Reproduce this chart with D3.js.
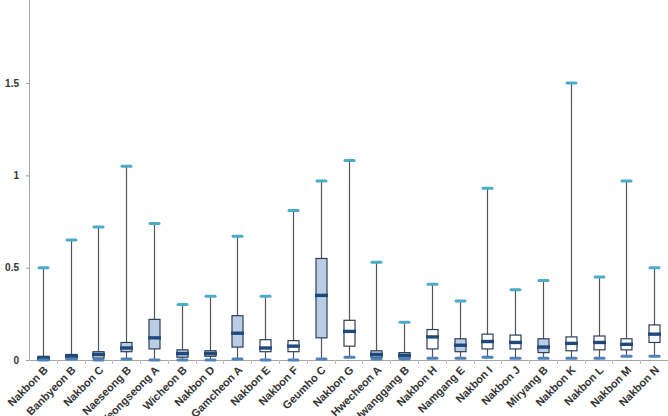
<!DOCTYPE html>
<html>
<head>
<meta charset="utf-8">
<script src="https://cdn.jsdelivr.net/npm/d3@7"></script>
<style>
  html, body { margin: 0; padding: 0; background: #fff; }
  svg { display: block; font-family: Arial, "Liberation Sans", sans-serif; }
</style>
</head>
<body>
<svg id="chart" width="668" height="416"></svg>
<script>
// data
const sites = ['Nakbon B', 'Banbyeon B', 'Nakbon C', 'Naeseong B', 'Yeongseong A', 'Wicheon B',
  'Nakbon D', 'Gamcheon A', 'Nakbon E', 'Nakbon F', 'Geumho C', 'Nakbon G', 'Hwecheon A',
  'Hwanggang B', 'Nakbon H', 'Namgang E', 'Nakbon I', 'Nakbon J', 'Miryang B', 'Nakbon K',
  'Nakbon L', 'Nakbon M', 'Nakbon N']
const minVals = [0.0, 0.005, 0.0, 0.005, 0.0, 0.0, 0.0, 0.005, 0.0, 0.0, 0.005, 0.015, 0.005,
  0.005, 0.01, 0.01, 0.015, 0.01, 0.01, 0.01, 0.01, 0.02, 0.02]
const q1Vals = [0.0, 0.005, 0.01, 0.045, 0.06, 0.015, 0.02, 0.07, 0.045, 0.045, 0.12, 0.075,
  0.015, 0.01, 0.06, 0.045, 0.06, 0.06, 0.04, 0.05, 0.055, 0.055, 0.095]
const medianVals = [0.01, 0.02, 0.03, 0.065, 0.12, 0.035, 0.035, 0.145, 0.065, 0.075, 0.35,
  0.155, 0.03, 0.025, 0.125, 0.08, 0.1, 0.095, 0.07, 0.09, 0.095, 0.085, 0.14]
const q3Vals = [0.02, 0.03, 0.045, 0.095, 0.22, 0.055, 0.05, 0.24, 0.11, 0.105, 0.55, 0.215,
  0.05, 0.04, 0.165, 0.115, 0.14, 0.135, 0.115, 0.125, 0.13, 0.115, 0.19]
const maxVals = [0.5, 0.65, 0.72, 1.05, 0.74, 0.3, 0.345, 0.67, 0.345, 0.81, 0.97, 1.08, 0.53,
  0.205, 0.41, 0.32, 0.93, 0.38, 0.43, 1.5, 0.45, 0.97, 0.5]
// which sites have a shaded box
const shaded = [true, true, true, true, true, true, true, true, false, false, true, false, true,
  true, false, true, false, false, true, false, false, false, false]
const yTicks = [0, 0.5, 1, 1.5]

const rows = sites.map((name, i) => ({
  name, min: minVals[i], q1: q1Vals[i], median: medianVals[i], q3: q3Vals[i], max: maxVals[i],
  shaded: shaded[i]
}))

const svg = d3.select('#chart')
const left = 29
const bottom = 360

const x = d3.scaleBand().domain(sites).range([left, 668]).padding(0)
const y = d3.scaleLinear().domain([0, 1.95]).range([bottom, 0])

const boxW = 11
const capW = 10

// y axis
const yAxis = svg.append('g')
  .attr('transform', `translate(${left},0)`)
  .call(d3.axisLeft(y).tickValues(yTicks).tickSize(3).tickPadding(7)
    .tickFormat(d => d3.format('~g')(d)))
yAxis.select('.domain').remove()
yAxis.selectAll('line').attr('stroke', '#999')
yAxis.selectAll('text')
  .attr('fill', '#333').attr('font-size', 10).attr('font-weight', 'bold')
yAxis.append('line')
  .attr('x1', 0.5).attr('x2', 0.5).attr('y1', 0).attr('y2', bottom)
  .attr('stroke', '#a6a6a6')

// x axis
const xAxis = svg.append('g')
  .attr('transform', `translate(0,${bottom})`)
  .call(d3.axisBottom(x).tickSize(0))
xAxis.select('.domain').attr('stroke', '#a6a6a6')
xAxis.selectAll('text')
  .attr('fill', '#333').attr('font-size', 11).attr('font-weight', 'bold')
  .attr('text-anchor', 'end')
  .attr('x', 0).attr('y', 0)
  .attr('dy', '0.35em')
  .attr('transform', 'translate(3,8) rotate(-45)')
// small ticks between categories
xAxis.selectAll('.sep')
  .data(sites.slice(1))
  .enter()
  .append('line')
  .attr('class', 'sep')
  .attr('x1', d => Math.round(x(d)) + 0.5)
  .attr('x2', d => Math.round(x(d)) + 0.5)
  .attr('y1', 0).attr('y2', 4)
  .attr('stroke', '#bbb')

// boxes
const g = svg.append('g')
  .selectAll('g')
  .data(rows)
  .enter()
  .append('g')
  .attr('transform', d => `translate(${Math.round(x(d.name) + x.bandwidth() / 2)},0)`)

g.append('line')
  .attr('x1', 0.5).attr('x2', 0.5)
  .attr('y1', d => y(d.max)).attr('y2', d => y(d.min))
  .attr('stroke', '#555').attr('stroke-width', 1.2)

g.append('rect')
  .attr('x', -boxW / 2 + 0.5)
  .attr('width', boxW)
  .attr('y', d => y(d.q3))
  .attr('height', d => Math.max(1, y(d.q1) - y(d.q3)))
  .attr('fill', d => d.shaded ? '#b9cde5' : '#fff')
  .attr('stroke', '#2f3f55').attr('stroke-width', 1.2)

g.append('line')
  .attr('x1', -boxW / 2 - 0.5).attr('x2', boxW / 2 + 1.5)
  .attr('y1', d => y(d.median)).attr('y2', d => y(d.median))
  .attr('stroke', '#1f497d').attr('stroke-width', 3.4)

// caps
g.append('line')
  .attr('x1', -capW / 2 + 1).attr('x2', capW / 2)
  .attr('y1', d => y(d.max)).attr('y2', d => y(d.max))
  .attr('stroke', '#4bacc6').attr('stroke-width', 3).attr('stroke-linecap', 'round')

g.append('line')
  .attr('x1', -capW / 2 + 1).attr('x2', capW / 2)
  .attr('y1', d => y(d.min)).attr('y2', d => y(d.min))
  .attr('stroke', '#4f81bd').attr('stroke-width', 3).attr('stroke-linecap', 'round')
</script>
</body>
</html>
